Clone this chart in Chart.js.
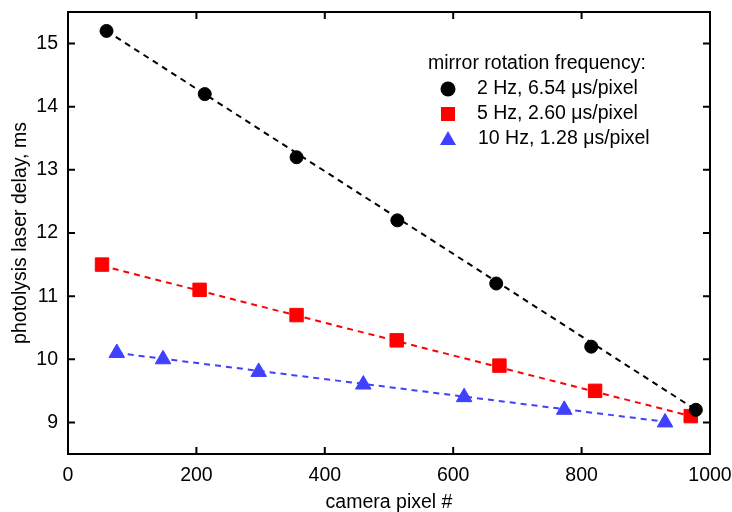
<!DOCTYPE html>
<html lang="en">
<head>
  <meta charset="UTF-8" />
  <title>Photolysis laser delay vs camera pixel</title>
  <script src="https://cdn.jsdelivr.net/npm/chart.js"></script>
  <style>
    body { margin: 0; background: #ffffff; }
    canvas { display: block; }
  </style>
</head>
<body>
  <canvas id="delayChart" width="732" height="512"></canvas>

  <script>
    // values
    const pixel2 = [60, 213, 356, 513, 667, 815, 978];
    const delay2 = [15.2, 14.2, 13.2, 12.2, 11.2, 10.2, 9.2];
    const pixel5 = [53, 205, 356, 512, 672, 821, 970];
    const delay5 = [11.5, 11.1, 10.7, 10.3, 9.9, 9.5, 9.1];
    const pixel10 = [76, 148, 297, 460, 617, 773, 930];
    const delay10 = [10.1, 10.0, 9.8, 9.6, 9.4, 9.2, 9.0];

    // dashed fit lines, end points
    const fitX2 = [60, 978], fitY2 = [15.2, 9.2];
    const fitX5 = [53, 970], fitY5 = [11.48, 9.1];
    const fitX10 = [76, 930], fitY10 = [10.1, 9.01];

    const xTicks = [0, 200, 400, 600, 800, 1000];
    const yTicks = [9, 10, 11, 12, 13, 14, 15];

    const legendTitle = 'mirror rotation frequency:';
    const seriesNames = ['2 Hz, 6.54 \u03bcs/pixel', '5 Hz, 2.60 \u03bcs/pixel', '10 Hz, 1.28 \u03bcs/pixel'];

    const BLUE = '#4040ff';
    const FONT = "'Liberation Sans', Arial, sans-serif";
    const FSIZE = 19.5;

    const pts = (xs, ys) => xs.map((x, i) => ({ x, y: ys[i] }));

    const fitLine = (xs, ys, color) => ({
      data: pts(xs, ys),
      showLine: true,
      borderColor: color,
      borderWidth: 2,
      borderDash: [6, 5],
      pointRadius: 0,
      fill: false
    });

    const markers = (xs, ys, color, style, r) => ({
      data: pts(xs, ys),
      showLine: false,
      pointStyle: style,
      pointRadius: r,
      pointHoverRadius: r,
      pointBackgroundColor: color,
      pointBorderColor: color,
      pointBorderWidth: 1
    });

    // box round the plot with inward ticks on all four sides, plus the legend
    const framePlugin = {
      id: 'frame',
      afterDatasetsDraw(chart) {
        const { ctx, chartArea: a, scales: { x, y } } = chart;
        const t = 7;
        ctx.save();
        ctx.strokeStyle = '#000';
        ctx.lineWidth = 2;
        ctx.strokeRect(a.left, a.top, a.right - a.left, a.bottom - a.top);
        ctx.beginPath();
        xTicks.forEach(v => {
          const px = x.getPixelForValue(v);
          ctx.moveTo(px, a.bottom); ctx.lineTo(px, a.bottom - t);
          ctx.moveTo(px, a.top); ctx.lineTo(px, a.top + t);
        });
        yTicks.forEach(v => {
          const py = y.getPixelForValue(v);
          ctx.moveTo(a.left, py); ctx.lineTo(a.left + t, py);
          ctx.moveTo(a.right, py); ctx.lineTo(a.right - t, py);
        });
        ctx.stroke();

        // legend
        ctx.font = FSIZE + 'px ' + FONT;
        ctx.fillStyle = '#000';
        ctx.textBaseline = 'middle';
        ctx.textAlign = 'left';
        ctx.fillText(legendTitle, 428, 64);
        const rows = [89, 114, 139];
        const mx = 448;
        seriesNames.forEach((name, i) => ctx.fillText(name, i === 2 ? 478 : 477, rows[i]));

        ctx.fillStyle = '#000';
        ctx.beginPath();
        ctx.arc(mx, rows[0], 7.5, 0, Math.PI * 2);
        ctx.fill();

        ctx.fillStyle = '#ff0000';
        ctx.fillRect(mx - 7, rows[1] - 7, 14, 14);

        ctx.fillStyle = BLUE;
        ctx.beginPath();
        ctx.moveTo(mx, rows[2] - 8);
        ctx.lineTo(mx + 8, rows[2] + 6);
        ctx.lineTo(mx - 8, rows[2] + 6);
        ctx.closePath();
        ctx.fill();
        ctx.restore();
      }
    };

    new Chart(document.getElementById('delayChart'), {
      type: 'scatter',
      data: {
        datasets: [
          fitLine(fitX2, fitY2, '#000000'),
          fitLine(fitX5, fitY5, '#ff0000'),
          fitLine(fitX10, fitY10, BLUE),
          markers(pixel2, delay2, '#000000', 'circle', 6.5),
          markers(pixel10, delay10, BLUE, 'triangle', 9),
          markers(pixel5, delay5, '#ff0000', 'rect', 9.5)
        ]
      },
      options: {
        responsive: false,
        animation: false,
        layout: { padding: { top: 12, right: 22, left: 0, bottom: 0 } },
        plugins: { legend: { display: false }, tooltip: { enabled: false } },
        scales: {
          x: {
            type: 'linear',
            min: 0,
            max: 1000,
            afterBuildTicks: s => { s.ticks = xTicks.map(v => ({ value: v })); },
            afterFit: s => { s.height = 58; s.paddingLeft = 0; s.paddingRight = 0; },
            grid: { display: false, drawTicks: false },
            border: { display: false },
            ticks: { color: '#000', font: { size: FSIZE, family: FONT }, padding: 10, maxRotation: 0, autoSkip: false, callback: v => String(v) },
            title: { display: true, text: 'camera pixel #', color: '#000', font: { size: FSIZE, family: FONT }, padding: { top: 0, bottom: -2 } }
          },
          y: {
            type: 'linear',
            min: 8.5,
            max: 15.5,
            afterBuildTicks: s => { s.ticks = yTicks.map(v => ({ value: v })); },
            afterFit: s => { s.width = 68; s.paddingTop = 0; s.paddingBottom = 0; },
            grid: { display: false, drawTicks: false },
            border: { display: false },
            ticks: { color: '#000', font: { size: FSIZE, family: FONT }, padding: 10, callback: v => String(v) },
            title: { display: true, text: 'photolysis laser delay, ms', color: '#000', font: { size: FSIZE, family: FONT }, padding: { top: 9, bottom: 0 } }
          }
        }
      },
      plugins: [framePlugin]
    });
  </script>
</body>
</html>
